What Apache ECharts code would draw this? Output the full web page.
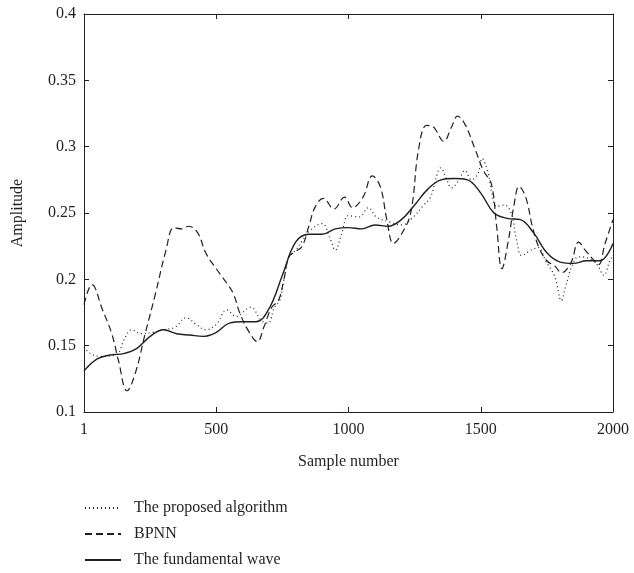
<!DOCTYPE html>
<html>
<head>
<meta charset="utf-8">
<script src="https://cdn.jsdelivr.net/npm/echarts@6/dist/echarts.min.js"></script>
<style>
  html, body { margin: 0; padding: 0; background: #fff; }
  #chart { width: 634px; height: 573px; }
</style>
</head>
<body>
<div id="chart"></div>
<script type="text/javascript">
  // sample positions and amplitudes
  var proposedX = [0, 25, 60, 120, 155, 180, 215, 260, 300, 345, 385, 425, 460, 500, 540, 575, 630, 670, 695, 720, 740, 755, 775, 800, 825, 850, 900, 930, 950, 975, 1000, 1040, 1075, 1105, 1160, 1200, 1240, 1280, 1310, 1335, 1348, 1368, 1390, 1415, 1440, 1465, 1490, 1505, 1528, 1542, 1560, 1590, 1615, 1635, 1655, 1690, 1718, 1745, 1780, 1805, 1820, 1845, 1870, 1905, 1940, 1965, 1990, 2000];
  var proposedY = [0.149, 0.144, 0.142, 0.143, 0.156, 0.162, 0.159, 0.160, 0.162, 0.164, 0.171, 0.166, 0.162, 0.166, 0.177, 0.172, 0.179, 0.169, 0.167, 0.179, 0.184, 0.199, 0.217, 0.222, 0.229, 0.236, 0.242, 0.231, 0.222, 0.235, 0.248, 0.247, 0.254, 0.247, 0.243, 0.241, 0.246, 0.255, 0.262, 0.279, 0.284, 0.277, 0.269, 0.274, 0.282, 0.275, 0.280, 0.291, 0.280, 0.265, 0.255, 0.256, 0.250, 0.230, 0.218, 0.222, 0.224, 0.214, 0.202, 0.184, 0.194, 0.210, 0.217, 0.216, 0.211, 0.203, 0.215, 0.217];

  var bpnnX = [0, 30, 70, 105, 130, 163, 195, 230, 270, 310, 340, 370, 395, 430, 460, 500, 540, 565, 590, 625, 655, 680, 710, 735, 755, 775, 800, 825, 850, 875, 905, 945, 985, 1015, 1055, 1090, 1120, 1145, 1170, 1200, 1235, 1265, 1295, 1320, 1360, 1390, 1412, 1440, 1475, 1510, 1540, 1560, 1580, 1605, 1625, 1645, 1670, 1695, 1720, 1750, 1780, 1805, 1840, 1870, 1895, 1925, 1945, 1970, 2000];
  var bpnnY = [0.181, 0.196, 0.177, 0.159, 0.139, 0.116, 0.130, 0.158, 0.189, 0.222, 0.239, 0.238, 0.240, 0.235, 0.220, 0.208, 0.197, 0.189, 0.174, 0.160, 0.153, 0.164, 0.179, 0.184, 0.199, 0.217, 0.221, 0.225, 0.240, 0.255, 0.261, 0.253, 0.262, 0.254, 0.262, 0.278, 0.270, 0.245, 0.227, 0.234, 0.250, 0.298, 0.316, 0.315, 0.304, 0.315, 0.323, 0.317, 0.300, 0.282, 0.272, 0.240, 0.208, 0.230, 0.255, 0.270, 0.262, 0.240, 0.224, 0.214, 0.210, 0.205, 0.212, 0.228, 0.222, 0.215, 0.211, 0.227, 0.245];

  var waveX = [0, 50, 100, 150, 200, 250, 300, 350, 400, 450, 500, 550, 600, 650, 700, 750, 800, 850, 900, 950, 1000, 1050, 1100, 1150, 1200, 1250, 1300, 1350, 1400, 1450, 1500, 1550, 1600, 1650, 1700, 1750, 1800, 1850, 1900, 1950, 2000];
  var waveY = [0.131, 0.140, 0.143, 0.144, 0.148, 0.157, 0.162, 0.159, 0.158, 0.157, 0.160, 0.167, 0.168, 0.168, 0.178, 0.203, 0.228, 0.234, 0.234, 0.238, 0.239, 0.238, 0.241, 0.240, 0.245, 0.256, 0.268, 0.275, 0.276, 0.275, 0.265, 0.250, 0.246, 0.245, 0.235, 0.220, 0.213, 0.212, 0.214, 0.214, 0.227];

  var names = ['The proposed algorithm', 'BPNN', 'The fundamental wave'];

  function pairs(xs, ys) {
    return xs.map(function (x, i) { return [x, ys[i]]; });
  }

  var ink = '#231f20';
  var font = '"Liberation Serif", "DejaVu Serif", serif';

  var chart = echarts.init(document.getElementById('chart'));

  var boxAxisX = {
    type: 'value',
    min: 0,
    max: 2000,
    interval: 500,
    axisLine: { onZero: false, lineStyle: { color: ink, width: 1 } },
    axisTick: { inside: true, length: 5, lineStyle: { color: ink } },
    splitLine: { show: false }
  };
  var boxAxisY = {
    type: 'value',
    min: 0.1,
    max: 0.4,
    interval: 0.05,
    axisLine: { onZero: false, lineStyle: { color: ink, width: 1 } },
    axisTick: { inside: true, length: 5, lineStyle: { color: ink } },
    splitLine: { show: false }
  };

  var option = {
    backgroundColor: '#fff',
    animation: false,
    textStyle: { fontFamily: font, color: ink },
    grid: { left: 84, right: 21, top: 14, bottom: 161 },
    legend: {
      data: names,
      orient: 'vertical',
      left: 84,
      top: 500,
      height: 90,
      padding: 0,
      itemWidth: 36,
      itemHeight: 14,
      itemGap: 10,
      itemStyle: { opacity: 0 },
      textStyle: { fontFamily: font, fontSize: 16, color: ink, padding: [0, 0, 0, 8] }
    },
    xAxis: [
      Object.assign({}, boxAxisX, {
        position: 'bottom',
        name: 'Sample number',
        nameLocation: 'middle',
        nameGap: 42,
        nameTextStyle: { fontFamily: font, fontSize: 16, color: ink },
        axisLabel: {
          margin: 10,
          fontFamily: font,
          fontSize: 16,
          color: ink,
          formatter: function (v) { return v === 0 ? '1' : String(v); }
        }
      }),
      Object.assign({}, boxAxisX, { position: 'top', axisLabel: { show: false } })
    ],
    yAxis: [
      Object.assign({}, boxAxisY, {
        position: 'left',
        name: 'Amplitude',
        nameLocation: 'middle',
        nameGap: 58,
        nameTextStyle: { fontFamily: font, fontSize: 16, color: ink },
        axisLabel: {
          margin: 8,
          fontFamily: font,
          fontSize: 16,
          color: ink,
          formatter: function (v) { return String(Math.round(v * 100) / 100); }
        }
      }),
      Object.assign({}, boxAxisY, { position: 'right', axisLabel: { show: false } })
    ],
    series: [
      {
        name: names[0],
        type: 'line',
        data: pairs(proposedX, proposedY),
        smooth: 0.4,
        symbol: 'none',
        itemStyle: { color: ink },
        lineStyle: { color: ink, width: 1.2, type: [1, 3] }
      },
      {
        name: names[1],
        type: 'line',
        data: pairs(bpnnX, bpnnY),
        smooth: 0.4,
        symbol: 'none',
        itemStyle: { color: ink },
        lineStyle: { color: ink, width: 1.2, type: [7, 4] }
      },
      {
        name: names[2],
        type: 'line',
        data: pairs(waveX, waveY),
        smooth: 0.4,
        symbol: 'none',
        itemStyle: { color: ink },
        lineStyle: { color: ink, width: 1.4, type: 'solid' }
      }
    ]
  };

  chart.setOption(option);

  window.addEventListener('resize', chart.resize);
</script>
</body>
</html>
